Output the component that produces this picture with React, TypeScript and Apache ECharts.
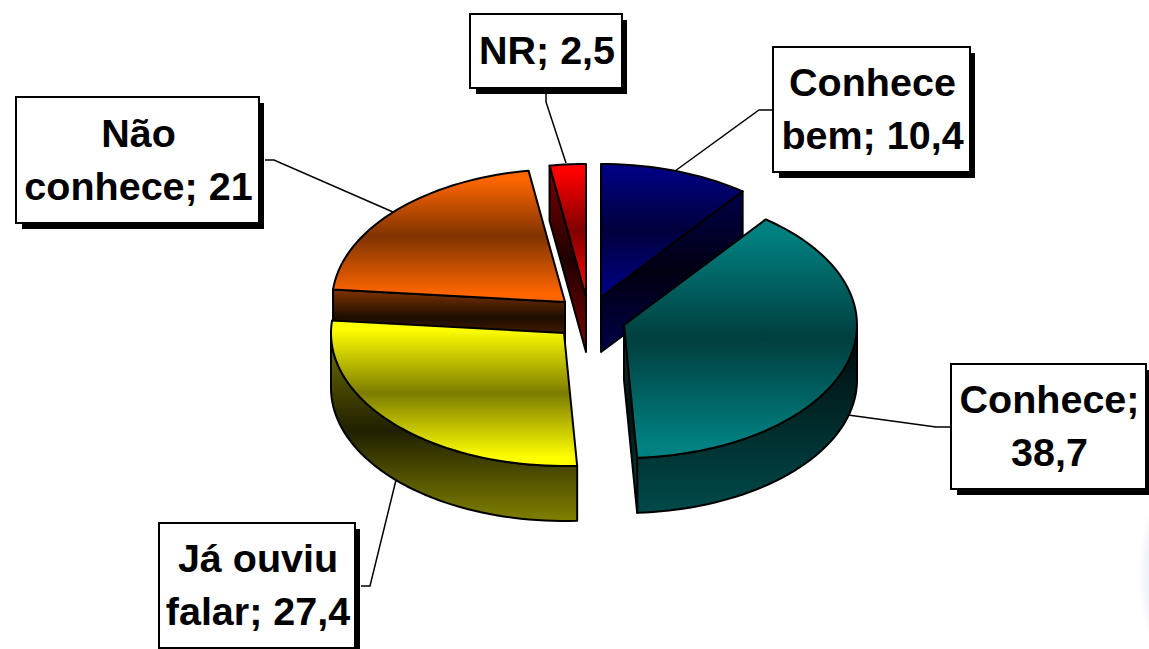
import React, { useEffect, useRef } from "react";
import * as echarts from "echarts";

const categories = ["Conhece bem", "Conhece", "Já ouviu falar", "Não conhece", "NR"];
const values = [10.4, 38.7, 27.4, 21, 2.5];
const labelTexts = ["Conhece\nbem; 10,4", "Conhece;\n38,7", "Já ouviu\nfalar; 27,4", "Não\nconhece; 21", "NR; 2,5"];

// Colour of each slice: bright, middle of the top face, side edge, side dark
const brightColors = ["#000080", "#008080", "#ffff00", "#ff6600", "#ff0000"];
const midColors = ["#00003c", "#003e3e", "#7c7c00", "#803300", "#800000"];
const sideEdgeColors = ["#000048", "#004a4a", "#808000", "#803300", "#800000"];
const sideDarkColors = ["#000012", "#001010", "#202000", "#1c0c00", "#200000"];

// Layout: exploded apex of each slice and paint order
const apexes = [[601, 297], [624, 325], [564, 333], [565, 302], [586, 297]];
const paintOrder = [2, 4, 5, 3, 1];
const sideMidStop = [0.5, 0.44, 0.55, 0.42, 0.5];
const RX = 233;
const RY = 133;
const DEPTH = 55;

const boxes = [
  { x: 773, y: 47, w: 197, h: 125 },
  { x: 951, y: 364, w: 195, h: 125 },
  { x: 159, y: 523, w: 196, h: 125 },
  { x: 16, y: 97, w: 243, h: 126 },
  { x: 470, y: 14, w: 152, h: 74 },
];
const leaders = [
  [[773, 110], [759, 110], [675, 171]],
  [[951, 427], [936, 427], [848, 415]],
  [[361, 586], [370, 586], [396, 480]],
  [[265, 160], [274, 160], [393, 212]],
  [[546, 93], [546, 102], [566, 163]],
];

const total = values.reduce((a, b) => a + b, 0);

function pointAt(i: number, deg: number, dy = 0): number[] {
  const t = (deg * Math.PI) / 180;
  return [apexes[i][0] + RX * Math.sin(t), apexes[i][1] - RY * Math.cos(t) + dy];
}

function arc(i: number, a: number, b: number, dy = 0): number[][] {
  const n = Math.max(2, Math.ceil(Math.abs(b - a) / 2));
  const out: number[][] = [];
  for (let k = 0; k <= n; k++) out.push(pointAt(i, a + ((b - a) * k) / n, dy));
  return out;
}

function gradient(y0: number, y1: number, stops: [number, string][]) {
  return new echarts.graphic.LinearGradient(
    0, y0, 0, y1,
    stops.map(([offset, color]) => ({ offset, color })),
    true
  );
}

function renderSlice(params: any) {
  const i = params.dataIndex;
  const start = (values.slice(0, i).reduce((a, b) => a + b, 0) / total) * 360;
  const end = start + (values[i] / total) * 360;
  const apex = apexes[i];
  const children: any[] = [];
  const z = paintOrder[i] * 10;
  const sideStops = (): [number, string][] => [
    [0, sideEdgeColors[i]],
    [sideMidStop[i], sideDarkColors[i]],
    [1, sideEdgeColors[i]],
  ];
  const edge = { stroke: "#000", lineWidth: 2, lineJoin: "round" };

  const topArc = arc(i, start, end);
  const topPoints = [apex, ...topArc];
  const ys = topPoints.map((p) => p[1]);
  const allY0 = Math.min(...ys);
  const allY1 = Math.max(...ys);

  // outer rim, only where it faces the viewer
  const a = Math.max(start, 90);
  const b = Math.min(end, 270);
  if (b > a) {
    const pts = [...arc(i, a, b), ...arc(i, a, b, DEPTH).reverse()];
    children.push({
      type: "polygon", z2: z, shape: { points: pts },
      style: { ...edge, fill: gradient(allY0, allY1 + DEPTH, sideStops()) },
    });
  }

  // radial walls that face the viewer
  const walls: number[] = [];
  if (i === 0) walls.push(end);
  if (i === 1) walls.push(end);
  if (i === 3) walls.push(start);
  if (i === 4) walls.push(start);
  walls.forEach((deg) => {
    const p = pointAt(i, deg);
    const pts = [apex, p, [p[0], p[1] + DEPTH], [apex[0], apex[1] + DEPTH]];
    const wy = pts.map((q) => q[1]);
    children.push({
      type: "polygon", z2: z + 1, shape: { points: pts },
      style: { ...edge, fill: gradient(Math.min(...wy), Math.max(...wy), sideStops()) },
    });
  });

  children.push({
    type: "polygon", z2: z + 2, shape: { points: topPoints },
    style: {
      ...edge,
      fill: gradient(allY0, allY1, [
        [0, brightColors[i]],
        [0.06, brightColors[i]],
        [0.5, midColors[i]],
        [0.94, brightColors[i]],
        [1, brightColors[i]],
      ]),
    },
  });

  return { type: "group", children };
}

export default function App() {
  const ref = useRef<HTMLDivElement>(null);
  useEffect(() => {
    document.body.style.margin = "0";
    document.body.style.overflow = "hidden";
    const chart = echarts.init(ref.current!, undefined, { renderer: "svg" });
    const graphics: any[] = [];
    graphics.push({
      type: "ellipse", z: 0, silent: true,
      shape: { cx: 1158, cy: 575, rx: 20, ry: 70 },
      style: {
        fill: new echarts.graphic.RadialGradient(0.5, 0.5, 0.5, [
          { offset: 0, color: "#e8ecf6" },
          { offset: 0.6, color: "#f0f3f9" },
          { offset: 1, color: "#ffffff" },
        ]),
      },
    });
    leaders.forEach((points) => {
      graphics.push({
        type: "polyline", z: 1, silent: true, shape: { points },
        style: { stroke: "#000", lineWidth: 1.5, fill: "none" },
      });
    });
    boxes.forEach((box, i) => {
      graphics.push({
        type: "rect", z: 3, silent: true,
        shape: { x: box.x + 6, y: box.y + 6, width: box.w - 1, height: box.h },
        style: { fill: "#000" },
      });
      graphics.push({
        type: "rect", z: 4, silent: true,
        shape: { x: box.x, y: box.y, width: box.w, height: box.h },
        style: { fill: "#fff", stroke: "#000", lineWidth: 2 },
      });
      graphics.push({
        type: "text", z: 5, silent: true,
        style: {
          x: box.x + box.w / 2 + 1,
          y: box.y + box.h / 2 - 1,
          text: labelTexts[i],
          align: "center",
          verticalAlign: "middle",
          textAlign: "center",
          textVerticalAlign: "middle",
          font: 'bold 39.5px "Liberation Sans", Arial, sans-serif',
          lineHeight: 53,
          fill: "#000",
        },
      });
    });
    chart.setOption({
      animation: false,
      backgroundColor: "#ffffff",
      graphic: graphics,
      series: [
        {
          type: "custom",
          coordinateSystem: "none",
          silent: true,
          z: 2,
          data: categories.map((name, i) => ({ name, value: values[i] })),
          renderItem: renderSlice,
        },
      ],
    });
    return () => chart.dispose();
  }, []);
  return <div ref={ref} style={{ width: 1149, height: 649 }} />;
}
